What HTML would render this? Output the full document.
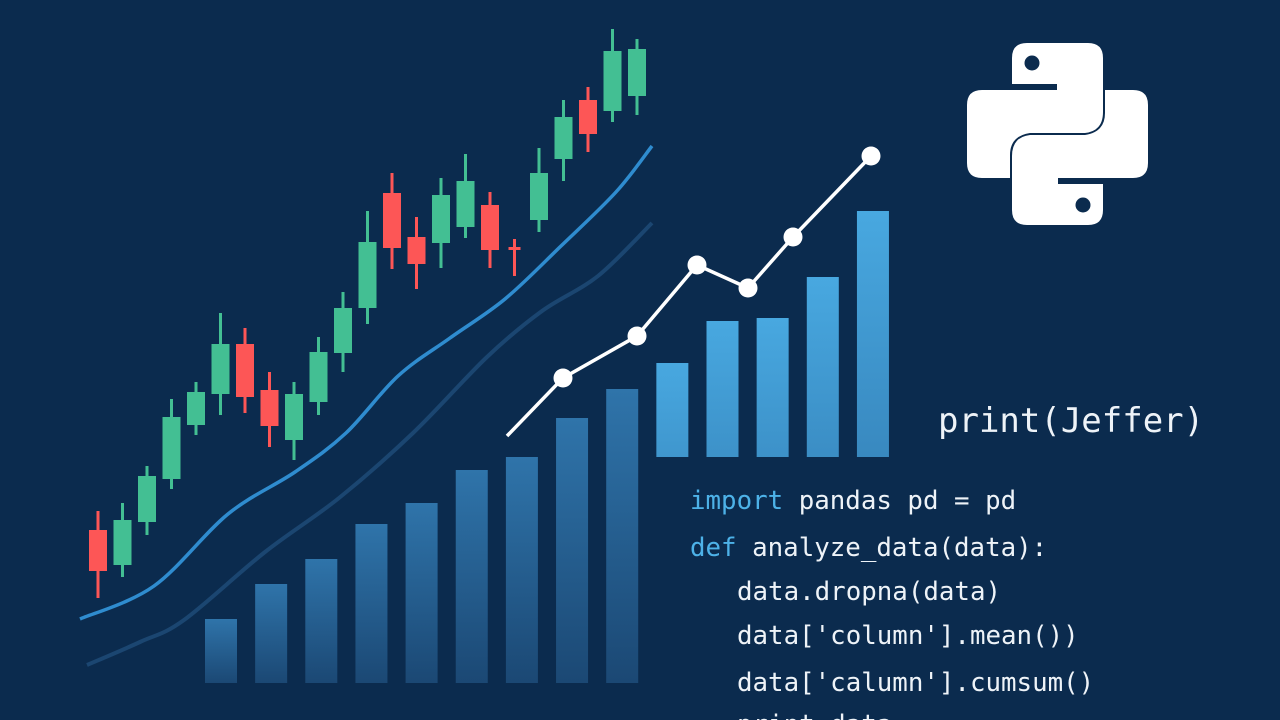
<!DOCTYPE html>
<html><head><meta charset="utf-8">
<style>
html,body{margin:0;padding:0;background:#0b2b4e;}
#wrap{position:relative;width:1280px;height:720px;overflow:hidden;background:#0b2b4e;}
svg{position:absolute;left:0;top:0;}
.code{position:absolute;font-family:"DejaVu Sans Mono","Liberation Mono",monospace;font-size:25.8px;color:#eef3f8;white-space:pre;}
.kw{color:#4db2e8;}
</style></head>
<body>
<div id="wrap">
<svg id="chart" width="1280" height="720">
  <defs>
    <linearGradient id="barL" x1="0" y1="0" x2="0" y2="1">
      <stop offset="0" stop-color="#2f74aa"/><stop offset="1" stop-color="#1b4874"/>
    </linearGradient>
    <linearGradient id="barR" x1="0" y1="0" x2="0" y2="1">
      <stop offset="0" stop-color="#48a8e0"/><stop offset="1" stop-color="#2a6ca2"/>
    </linearGradient>
    <clipPath id="rightClip"><rect x="640" y="0" width="640" height="457"/></clipPath>
  </defs>
  <g id="bars"></g>
  <g id="curves"></g>
  <g id="candles"></g>
  <g id="line"></g>
  <g fill="#ffffff">
    <path d="M1012,58 Q1012,43 1027,43 H1088 Q1103,43 1103,58 V112 Q1103,131 1085,133 H1030 Q1010,136 1010,155 V178 H982 Q967,178 967,163 V105 Q967,90 982,90 H1057 V84 H1012 Z"/>
    <path transform="rotate(180 1057.5 134)" d="M1012,58 Q1012,43 1027,43 H1088 Q1103,43 1103,58 V112 Q1103,131 1085,133 H1030 Q1010,136 1010,155 V178 H982 Q967,178 967,163 V105 Q967,90 982,90 H1057 V84 H1012 Z"/>
    <circle cx="1032" cy="63" r="7.5" fill="#0b2b4e"/>
    <circle cx="1083" cy="205" r="7.5" fill="#0b2b4e"/>
  </g>
</svg>
<div class="code" style="left:938px;top:401px;font-size:34px;">print(Jeffer)</div>
<div class="code" style="left:690px;top:486px;"><span class="kw">import</span> pandas pd = pd</div>
<div class="code" style="left:690px;top:533px;"><span class="kw">def</span> analyze_data(data):</div>
<div class="code" style="left:737px;top:577px;">data.dropna(data)</div>
<div class="code" style="left:737px;top:621px;">data['column'].mean())</div>
<div class="code" style="left:737px;top:668px;">data['calumn'].cumsum()</div>
<div class="code" style="left:737px;top:710px;">print data</div>
</div>
<script>
// Candlestick data (value units; y = 700 - value)
const candleOpen  = [170,135,178,221,275,306,356,310,260,298,347,392,507,463,457,473,495,453,480,541,600,589,604];
const candleClose = [129,180,224,283,308,356,303,274,306,348,392,458,452,436,505,519,450,451,527,583,566,649,651];
const candleHigh  = [189,197,234,301,318,387,372,328,318,363,408,489,527,483,522,546,508,461,552,600,613,671,661];
const candleLow   = [102,123,165,211,265,285,287,253,240,285,328,376,431,411,432,462,432,424,468,519,548,578,585];
// Bar data
const barValues = [64,99,124,159,180,213,226,265,294,320,362,365,406,472];
// Line series
const lineX = [507,563,637,697,748,793,871];
const lineValues = [264,322,364,435,412,463,544];
const lineMarkers = [false,true,true,true,true,true,true];
// Moving average curves
const maX = [80,154,228,295,346,398,450,505,561,616,652];
const maValues = [81,114,186,228,267,324,362,401,454,508,554];
const ma2X = [87,140,184,265,339,413,487,542,598,652];
const ma2Values = [35,58,80,148,202,267,343,389,424,477];

const SVGNS='http://www.w3.org/2000/svg';
const yScale = v => 700 - v;
const candleX = i => 98 + i*24.5;
const barX = i => 221 + i*50.15;
const barY = v => 683 - v;
function mk(tag, attrs, parent){const e=document.createElementNS(SVGNS,tag);for(const k in attrs)e.setAttribute(k,attrs[k]);parent.appendChild(e);return e;}
function smooth(xs, ys){
  let d='M'+xs[0]+','+ys[0];
  for(let i=0;i<xs.length-1;i++){
    const x0=xs[Math.max(0,i-1)],y0=ys[Math.max(0,i-1)],x1=xs[i],y1=ys[i],x2=xs[i+1],y2=ys[i+1],x3=xs[Math.min(xs.length-1,i+2)],y3=ys[Math.min(xs.length-1,i+2)];
    d+=' C'+(x1+(x2-x0)/6)+','+(y1+(y2-y0)/6)+' '+(x2-(x3-x1)/6)+','+(y2-(y3-y1)/6)+' '+x2+','+y2;
  }
  return d;
}
// bars
const gb=document.getElementById('bars');
barValues.forEach((v,i)=>{
  const right = i>=9;
  const r=mk('rect',{x:barX(i)-16,y:barY(v),width:32,height:v,fill:right?'url(#barR)':'url(#barL)'},gb);
  if(right) r.setAttribute('clip-path','url(#rightClip)');
  
  
});
// curves
const gc=document.getElementById('curves');
const c2=mk('path',{d:smooth(ma2X,ma2Values.map(yScale)),fill:'none',stroke:'#1b4671','stroke-width':4},gc);


const c1=mk('path',{d:smooth(maX,maValues.map(yScale)),fill:'none',stroke:'#2f8ccf','stroke-width':3.5},gc);


// candles
const gk=document.getElementById('candles');
candleOpen.forEach((o,i)=>{
  const c=candleClose[i],up=c>=o,col=up?'#43bf93':'#fd5656',x=candleX(i);
  const g=mk('g',{},gk);
  
  
  mk('rect',{x:x-1.5,y:yScale(candleHigh[i]),width:3,height:candleHigh[i]-candleLow[i],fill:col},g);
  const top=yScale(Math.max(o,c)),h=Math.max(Math.abs(o-c),3);
  const w=Math.abs(o-c)<5?12:18;
  mk('rect',{x:x-w/2,y:top,width:w,height:h,fill:col},g);
});
// line
const gl=document.getElementById('line');
const pts=lineX.map((x,i)=>x+','+yScale(lineValues[i])).join(' ');
const pl=mk('polyline',{points:pts,fill:'none',stroke:'#ffffff','stroke-width':3.5,'stroke-linejoin':'round'},gl);


lineX.forEach((x,i)=>{
  if(!lineMarkers[i])return;
  const m=mk('circle',{cx:x,cy:yScale(lineValues[i]),r:9.5,fill:'#ffffff'},gl);
  
  
});
</script>
</body></html>
